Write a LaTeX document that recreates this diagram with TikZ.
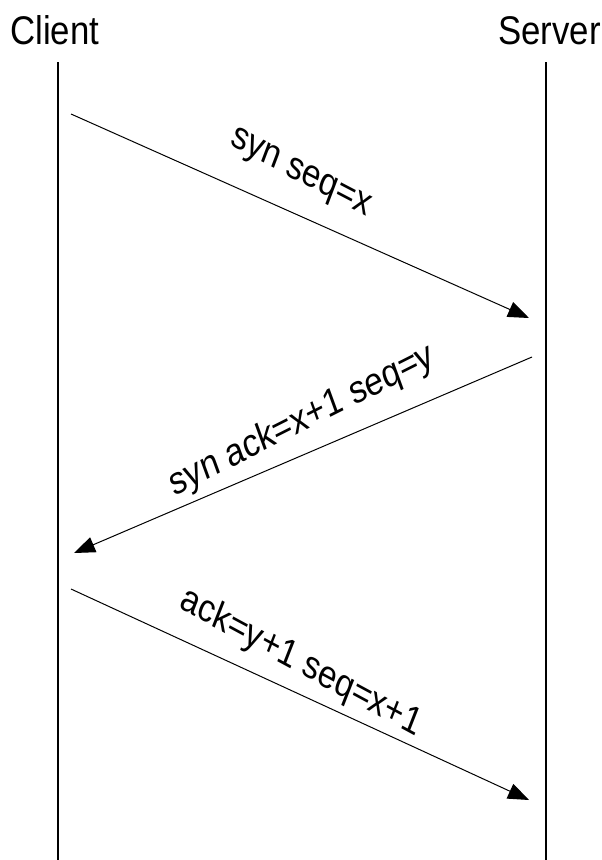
\documentclass[tikz,border=0pt]{standalone}
\usepackage{fontspec}
\setmainfont{Liberation Sans}
\usetikzlibrary{arrows.meta}
\tikzset{
  hdr/.style={inner sep=0pt, font=\fontsize{40}{40}\selectfont, xscale=0.87},
  lbl/.style={inner sep=0pt, font=\fontsize{39}{39}\selectfont, xscale=0.85},
  life/.style={line width=1.2pt, black},
  msg/.style={line width=1pt, black, -{Triangle[length=21pt,width=16pt]}}
}
\begin{document}
\begin{tikzpicture}[x=1pt,y=-1pt]
\useasboundingbox (0,0) rectangle (602,860);
\node[hdr, anchor=base west] (client) at (10,44) {Client};
\node[hdr, anchor=base east] (server) at (601,44) {Server};
\coordinate (ct) at (58,62);
\coordinate (cb) at (58,860);
\coordinate (st) at (546,62);
\coordinate (sb) at (546,860);
\draw[life] (ct) -- (cb);
\draw[life] (st) -- (sb);
\coordinate (a1s) at (71,114);
\coordinate (a1e) at (529,318);
\coordinate (a2s) at (532,357);
\coordinate (a2e) at (74,553);
\coordinate (a3s) at (71,589);
\coordinate (a3e) at (529,800);
\draw[msg] (a1s) -- (a1e);
\draw[msg] (a2s) -- (a2e);
\draw[msg] (a3s) -- (a3e);
\node[lbl, rotate=-24.0] (l1) at (300,175) {syn seq=x};
\node[lbl, rotate=23.2] (l2) at (302,421) {syn ack=x+1 seq=y};
\node[lbl, rotate=-24.7] (l3) at (301,663) {ack=y+1 seq=x+1};
\end{tikzpicture}
\end{document}
